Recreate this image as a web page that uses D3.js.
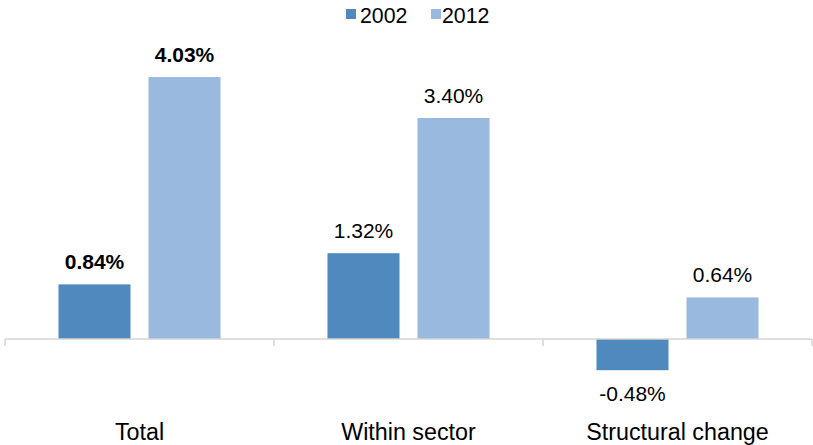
<!DOCTYPE html>
<html>
<head>
<meta charset="utf-8">
<script src="https://cdn.jsdelivr.net/npm/d3@7"></script>
<style>
  html, body { margin: 0; padding: 0; background: #fff; }
  svg { display: block; font-family: "Liberation Sans", Arial, sans-serif; }
</style>
</head>
<body>
<svg id="chart" width="813" height="445"></svg>
<script>
// Decomposition of growth: categories and the two survey years
const categories = ["Total", "Within sector", "Structural change"];
const seriesNames = ["2002", "2012"];
const values2002 = [0.84, 1.32, -0.48];
const values2012 = [4.03, 3.40, 0.64];
const boldCategories = ["Total"];
const colors = ["#4f89bd", "#99b9df"];

const svg = d3.select("#chart");
const W = 813, H = 445;

const x = d3.scaleBand().domain(categories).range([5, 812]).padding(0);
const inner = d3.scaleBand().domain(seriesNames)
  .range([0, x.bandwidth()]).paddingInner(0.2).paddingOuter(0.594);
const y = d3.scaleLinear().domain([-1, 5]).range([404, 14]);
const color = d3.scaleOrdinal().domain(seriesNames).range(colors);

const rows = [];
categories.forEach((c, i) => {
  rows.push({ cat: c, series: "2002", value: values2002[i] });
  rows.push({ cat: c, series: "2012", value: values2012[i] });
});

// bars
svg.append("g").selectAll("rect").data(rows).join("rect")
  .attr("x", d => x(d.cat) + inner(d.series))
  .attr("width", inner.bandwidth())
  .attr("y", d => y(Math.max(0, d.value)))
  .attr("height", d => Math.abs(y(d.value) - y(0)))
  .attr("fill", d => color(d.series));

// category axis along zero
const axis = svg.append("g").attr("stroke", "#d4d4d4").attr("stroke-width", 1.5);
axis.append("line")
  .attr("x1", x.range()[0]).attr("x2", x.range()[1])
  .attr("y1", y(0)).attr("y2", y(0));
const boundaries = categories.map(c => x(c)).concat([x.range()[1]]);
axis.selectAll("line.tick").data(boundaries).join("line")
  .attr("class", "tick")
  .attr("x1", d => d).attr("x2", d => d)
  .attr("y1", y(0)).attr("y2", y(0) + 7);

// value labels
svg.append("g").selectAll("text").data(rows).join("text")
  .attr("x", d => x(d.cat) + inner(d.series) + inner.bandwidth() / 2)
  .attr("y", d => d.value >= 0 ? y(d.value) - 15 : y(d.value) + 30.5)
  .attr("text-anchor", "middle")
  .attr("font-size", 21)
  .attr("font-weight", d => boldCategories.includes(d.cat) ? "bold" : "normal")
  .attr("fill", "#000")
  .text(d => d.value.toFixed(2) + "%");

// category labels
svg.append("g").selectAll("text").data(categories).join("text")
  .attr("x", d => x(d) + x.bandwidth() / 2)
  .attr("y", 439.5)
  .attr("text-anchor", "middle")
  .attr("font-size", 23.3)
  .attr("fill", "#000")
  .text(d => d);

// legend
const legendX = [346, 431];
const legendTextX = [360, 442];
const legend = svg.append("g").selectAll("g").data(seriesNames).join("g");
legend.append("rect")
  .attr("x", (d, i) => legendX[i]).attr("y", 9)
  .attr("width", 10).attr("height", 10)
  .attr("fill", d => color(d));
legend.append("text")
  .attr("x", (d, i) => legendTextX[i]).attr("y", 22.5)
  .attr("font-size", 21.3)
  .attr("fill", "#000")
  .text(d => d);
</script>
</body>
</html>
